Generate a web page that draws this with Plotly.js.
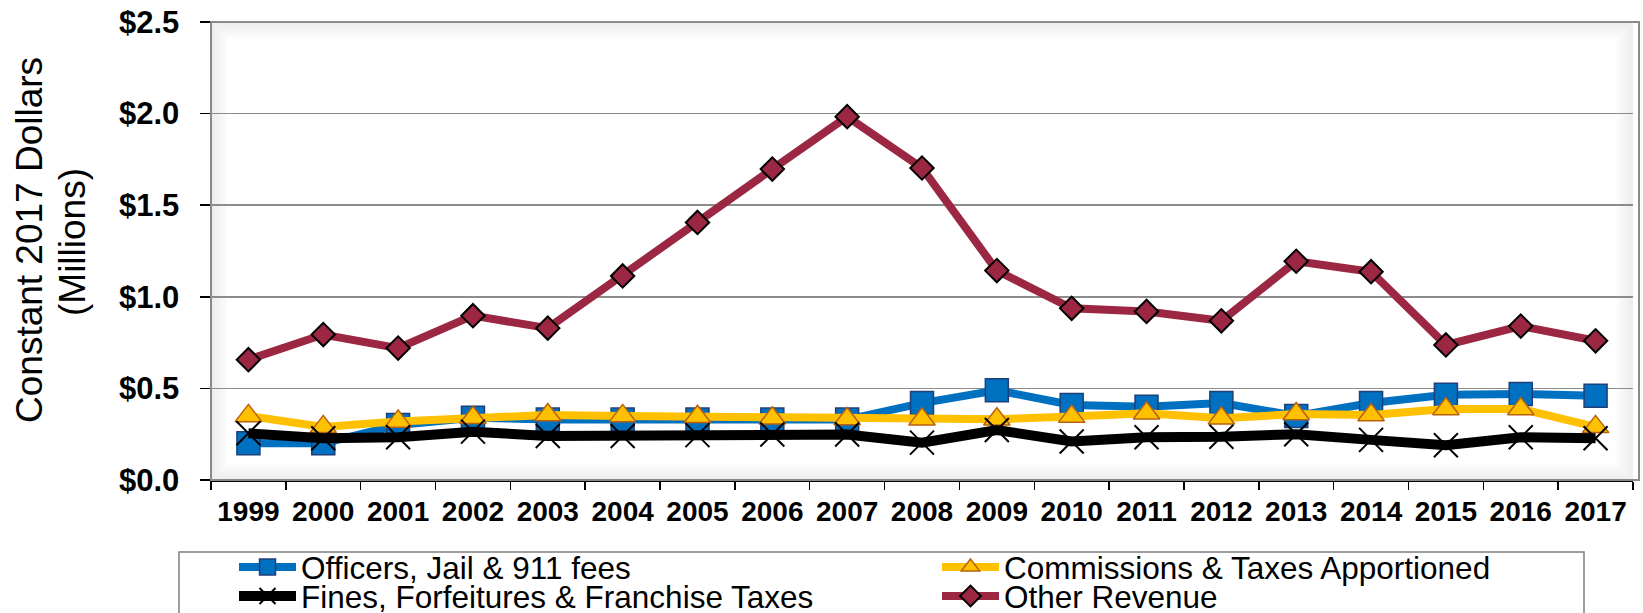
<!DOCTYPE html>
<html>
<head>
<meta charset="utf-8">
<script src="https://cdn.plot.ly/plotly-3.0.1.min.js"></script>
<style>
  html, body { margin: 0; padding: 0; background: #ffffff; }
  #chart { width: 1643px; height: 613px; }
</style>
</head>
<body>
<div id="chart"></div>
<script>
// ---- Data (constant 2017 dollars, millions) ----
var years = ['1999','2000','2001','2002','2003','2004','2005','2006','2007','2008',
             '2009','2010','2011','2012','2013','2014','2015','2016','2017'];
var officersJail911 = [0.20, 0.20, 0.30, 0.34, 0.33, 0.33, 0.33, 0.33, 0.33, 0.42,
                       0.49, 0.41, 0.40, 0.42, 0.35, 0.42, 0.465, 0.47, 0.46];
var commissionsTaxes = [0.35, 0.29, 0.32, 0.34, 0.355, 0.35, 0.345, 0.337, 0.333, 0.332,
                        0.332, 0.346, 0.364, 0.337, 0.36, 0.355, 0.388, 0.388, 0.29];
var finesForfeitures = [0.255, 0.228, 0.233, 0.264, 0.24, 0.24, 0.245, 0.248, 0.248, 0.204,
                        0.273, 0.21, 0.233, 0.236, 0.25, 0.219, 0.19, 0.233, 0.228];
var otherRevenue = [0.657, 0.794, 0.72, 0.897, 0.829, 1.114, 1.406, 1.697, 1.983, 1.703,
                    1.143, 0.937, 0.92, 0.869, 1.194, 1.137, 0.737, 0.84, 0.76];
var seriesNames = ['Officers, Jail & 911 fees', 'Commissions & Taxes Apportioned',
                   'Fines, Forfeitures & Franchise Taxes', 'Other Revenue'];
var yTickVals = [0, 0.5, 1.0, 1.5, 2.0, 2.5];
var yTickText = ['$0.0', '$0.5', '$1.0', '$1.5', '$2.0', '$2.5'];
var yTitleLines = ['Constant 2017 Dollars', '(Millions)'];

var FONT = 'Arial, "Liberation Sans", Helvetica, sans-serif';

var traces = [
  {
    x: years, y: officersJail911, name: seriesNames[0], type: 'scatter', mode: 'lines+markers',
    line: {color: '#0070C0', width: 8},
    marker: {symbol: 'square', size: 23, color: '#0070C0', line: {color: '#1F3F7A', width: 1.5}},
    legend: 'legend'
  },
  {
    x: years, y: commissionsTaxes, name: seriesNames[1], type: 'scatter', mode: 'lines+markers',
    line: {color: '#FFC000', width: 8},
    marker: {symbol: 'triangle-up', size: 23, color: '#FFC000', line: {color: '#B8610E', width: 1.5}},
    legend: 'legend'
  },
  {
    x: years, y: finesForfeitures, name: seriesNames[2], type: 'scatter', mode: 'lines+markers',
    line: {color: '#000000', width: 10},
    marker: {symbol: 'x-thin-open', size: 24, color: '#000000', line: {color: '#000000', width: 2}},
    legend: 'legend2'
  },
  {
    x: years, y: otherRevenue, name: seriesNames[3], type: 'scatter', mode: 'lines+markers',
    line: {color: '#9B2743', width: 8},
    marker: {symbol: 'diamond', size: 18, color: '#9B2743', line: {color: '#000000', width: 2}},
    legend: 'legend2'
  }
];

// inner shadow frame of plot area
var W = 1422, H = 458;
var shapes = [];
for (var k = 0; k < 8; k++) {
  var dx = (k * 2 + 1) / W, dy = (k * 2 + 1) / H;
  shapes.push({
    type: 'rect', xref: 'paper', yref: 'paper', layer: 'below',
    x0: dx, x1: 1 - dx, y0: dy, y1: 1 - dy,
    line: {color: 'rgba(0,0,0,' + (0.07 - k * 0.008).toFixed(3) + ')', width: 2}
  });
}
shapes.push({
  type: 'rect', xref: 'paper', yref: 'paper', layer: 'above',
  x0: 0, x1: 1 + 6 / W, y0: 0, y1: 1,
  line: {color: '#8a8a8a', width: 2}
});
// legend border
shapes.push({
  type: 'rect', xref: 'paper', yref: 'paper', layer: 'above',
  x0: (179 - 211) / W, x1: (1584 - 211) / W, y0: (480 - 552) / H, y1: (480 - 660) / H,
  line: {color: '#7f7f7f', width: 1.5}
});

var legendCommon = {
  orientation: 'h', xanchor: 'left', yanchor: 'top',
  x: (234 - 211) / W,
  font: {family: FONT, size: 31.5, color: '#000000'},
  itemwidth: 57, entrywidth: 631, entrywidthmode: 'pixels',
  bgcolor: 'rgba(0,0,0,0)', borderwidth: 0, traceorder: 'normal'
};

var layout = {
  width: 1643, height: 613,
  margin: {l: 211, r: 10, t: 22, b: 133, autoexpand: false},
  paper_bgcolor: '#ffffff', plot_bgcolor: '#ffffff',
  showlegend: true,
  legend: Object.assign({}, legendCommon, {y: (480 - 540) / H}),
  legend2: Object.assign({}, legendCommon, {y: (480 - 569) / H}),
  xaxis: {
    type: 'category', tickson: 'boundaries', tickangle: 0,
    range: [-0.5, years.length - 0.5], autorange: false,
    showline: true, linecolor: '#000000', linewidth: 1.5,
    ticks: 'outside', ticklen: 8, tickcolor: '#000000', tickwidth: 1.5,
    showgrid: false, zeroline: false,
    tickfont: {family: FONT, size: 28, color: '#000000', weight: 'bold'},
    ticklabelstandoff: 6,
    fixedrange: true
  },
  yaxis: {
    range: [0, 2.5], autorange: false, tickmode: 'array', tickvals: yTickVals, ticktext: yTickText,
    showline: true, linecolor: '#000000', linewidth: 1.5,
    ticks: 'outside', ticklen: 10, tickcolor: '#000000', tickwidth: 1.5,
    showgrid: true, gridcolor: '#8c8c8c', gridwidth: 1.5, zeroline: false,
    tickfont: {family: FONT, size: 31, color: '#000000', weight: 'bold'},
    ticklabelstandoff: 14,
    fixedrange: true
  },
  shapes: shapes,
  annotations: [
    {
      xref: 'paper', yref: 'paper', x: (29 - 211) / W, y: (480 - 240) / H,
      xanchor: 'center', yanchor: 'middle', textangle: -90, showarrow: false,
      text: yTitleLines[0],
      font: {family: FONT, size: 37, color: '#000000'}
    },
    {
      xref: 'paper', yref: 'paper', x: (72 - 211) / W, y: (480 - 242) / H,
      xanchor: 'center', yanchor: 'middle', textangle: -90, showarrow: false,
      text: yTitleLines[1],
      font: {family: FONT, size: 37, color: '#000000'}
    }
  ],
  hovermode: false
};

Plotly.newPlot('chart', traces, layout, {displayModeBar: false, staticPlot: true});
</script>
</body>
</html>
